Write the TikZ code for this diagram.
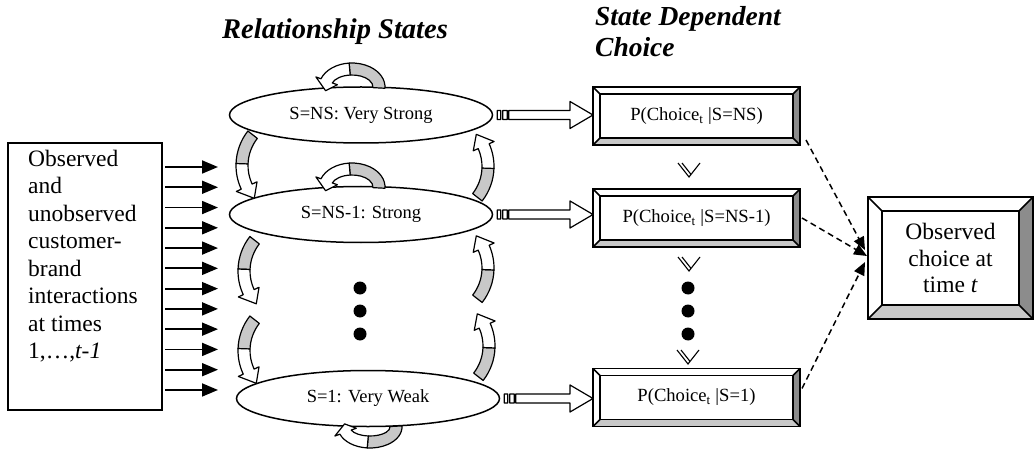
\documentclass[tikz,border=0pt]{standalone}
\usepackage{fontspec}
\setmainfont{Liberation Serif}
\usetikzlibrary{arrows.meta, calc, shapes.geometric}
\definecolor{bevlight}{HTML}{C8C8C8}
\definecolor{bevdark}{HTML}{8C8C8C}
\definecolor{ribgray}{HTML}{C8C8C8}

% bevelled frame round a rectangular node
\newcommand\bevel[2]{%
  \fill[bevlight] (#1.south west) -- ([shift={(#2,#2)}]#1.south west) -- ([shift={(-#2,#2)}]#1.south east) -- (#1.south east) -- cycle;
  \fill[bevdark] (#1.south east) -- ([shift={(-#2,#2)}]#1.south east) -- ([shift={(-#2,-#2)}]#1.north east) -- (#1.north east) -- cycle;
  \draw[bevline] ([shift={(#2,#2)}]#1.south west) rectangle ([shift={(-#2,-#2)}]#1.north east);
  \draw[bevline] (#1.south west) -- ++(#2,#2) (#1.south east) -- ++(-#2,#2)
    (#1.north east) -- ++(-#2,-#2) (#1.north west) -- ++(#2,-#2);
  \draw[bevline] (#1.south west) rectangle (#1.north east);
}
% curved ribbon arrow: centre outer, centre inner, radii outer, radii inner, start, grey end, head base, tip
\newcommand\ribbon[8]{%
  \path ([shift={(#7:#3)}]#1) coordinate (rbo) ([shift={(#7:#4)}]#2) coordinate (rbi)
        ([shift={(#8:#3)}]#1) coordinate (rto) ([shift={(#8:#4)}]#2) coordinate (rti);
  \filldraw[ribline, fill=ribgray] ([shift={(#5:#3)}]#1) arc (#5:#6:#3) -- ([shift={(#6:#4)}]#2) arc (#6:#5:#4) -- cycle;
  \filldraw[ribline, fill=white] ([shift={(#6:#3)}]#1) arc (#6:#7:#3) -- ($(rbo)!-0.45!(rbi)$)
    -- ($(rto)!0.5!(rti)$) -- ($(rbi)!-0.45!(rbo)$) -- (rbi) arc (#7:#6:#4) -- cycle;
}
% striped block arrow from one node to another
\newcommand\stripearrow[2]{%
  \filldraw[ribline, fill=white] let \p1=(#1), \p2=(#2) in
    (\x1+4pt,\y1-4.5pt) rectangle (\x1+7.5pt,\y1+4.5pt)
    (\x1+9.5pt,\y1-4.5pt) rectangle (\x1+14pt,\y1+4.5pt)
    (\x1+15.5pt,\y1-4.5pt) -- (\x2-23pt,\y1-4.5pt) -- (\x2-23pt,\y1-13.5pt) -- (\x2,\y1)
    -- (\x2-23pt,\y1+13.5pt) -- (\x2-23pt,\y1+4.5pt) -- (\x1+15.5pt,\y1+4.5pt) -- cycle;
}
% small double chevron pointing down
\newcommand\chevron[2]{%
  \draw[line width=1.1pt] (#1-11,#2+7) -- (#1,#2-7) -- (#1+11,#2+7) (#1-7,#2+7) -- (#1+2,#2-4.4);
}

\begin{document}
\begin{tikzpicture}[x=1pt, y=1pt,
  state/.style={ellipse, draw, line width=1.5pt, fill=white, minimum width=263pt,
    minimum height=56pt, inner sep=0pt, font=\fontsize{18.5}{22}\selectfont},
  pbox/.style={rectangle, fill=white, minimum width=207pt, minimum height=58pt,
    outer sep=0pt, font=\fontsize{18.6}{22}\selectfont},
  bevline/.style={line width=1.6pt},
  ribline/.style={line width=1.2pt, line join=round},
  inarr/.style={-{Triangle[length=16pt, width=13pt]}, line width=1.8pt},
  dasharr/.style={-{Triangle[length=13pt, width=11pt]}, line width=1.5pt, dash pattern=on 6pt off 4pt},
  title/.style={inner sep=0pt, align=left},
]
\useasboundingbox (0,0) rectangle (1035,453);

% titles
\node[title, font={\fontsize{28.5}{31}\selectfont\bfseries\itshape}, anchor=base west] (reltitle)
  at (222,414) {Relationship States};
\node[title, font={\fontsize{27.5}{31}\selectfont\bfseries\itshape}, anchor=north west] (choicetitle)
  at (595,447) {State Dependent\\Choice};

% interactions box
\node[draw, line width=1.3pt, minimum width=154pt, minimum height=267pt, outer sep=0pt] (interact) at (85,176.5) {};
\node[anchor=north west, align=left, inner sep=0pt, font=\fontsize{23.5}{27.5}\selectfont] (interacttxt)
  at (28,303.5) {Observed\\and\\unobserved\\customer-\\brand\\interactions\\at times\\1,…,\textit{t-1}};
\foreach \k in {0,...,11}{
  \pgfmathsetmacro\yy{286-20.27*\k}
  \draw[inarr] (interact.east |- 0,\yy) ++(3,0) -- (218,\yy);
}

% relationship states
\node[state] (vstrong) at (361,338) {S=NS: Very Strong};
\node[state] (strong) at (361,238.5) {S=NS-1: Strong};
\node[state] (vweak) at (368,54.5) {S=1: Very Weak};
\foreach \y in {165,142,119}{
  \fill (360,\y) circle (6.5);
  \fill (688,\y) circle (6.5);
}

% transitions
\coordinate (loopvs) at (352,366);
\coordinate (loopst) at (352,266);
\coordinate (loopvw) at (370,26);
\ribbon{loopvs}{loopvs}{33 and 24}{21 and 12}{-3}{95}{160}{192}
\ribbon{loopst}{loopst}{33 and 24}{21 and 12}{-3}{95}{160}{192}
\ribbon{loopvw}{loopvw}{32 and 21}{20 and 9}{3}{-95}{-160}{-192}
\foreach \cx/\cy in {292/287.5, 294/182, 294/102.5}{
  \coordinate (down) at (\cx,\cy);
  \ribbon{down}{down}{56}{44}{142}{178}{205}{221}
}
\foreach \cx/\cy in {438/286.5, 438/185, 439/107}{
  \coordinate (up) at (\cx,\cy);
  \ribbon{up}{up}{56}{44}{-38}{-2}{24}{40}
}

% state dependent choice
\node[pbox] (pvstrong) at (696.5,337) {P(Choice\textsubscript{t} |S=NS)};
\node[pbox] (pstrong) at (696.5,235) {P(Choice\textsubscript{t} |S=NS-1)};
\node[pbox] (pvweak) at (696.5,55.5) {P(Choice\textsubscript{t} |S=1)};
\bevel{pvstrong}{7}
\bevel{pstrong}{7}
\bevel{pvweak}{7}
\stripearrow{vstrong.east}{pvstrong.west}
\stripearrow{strong.east}{pstrong.west}
\stripearrow{vweak.east}{pvweak.west}
\chevron{689}{283}
\chevron{689}{189}
\chevron{688}{96}

% observed choice
\node[pbox, minimum width=165pt, minimum height=122pt, align=center,
  font=\fontsize{23.5}{26.5}\selectfont] (observed) at (950.5,195) {Observed\\choice at\\time \textit{t}};
\bevel{observed}{14}
\draw[dasharr] ([shift={(6,5)}]pvstrong.south east) -- ([shift={(-3,8)}]observed.west);
\draw[dasharr] ([xshift=2]pstrong.east) -- ([shift={(-1,2)}]observed.west);
\draw[dasharr] ([shift={(2,-20)}]pvweak.north east) -- ([shift={(-3,-4)}]observed.west);
\end{tikzpicture}
\end{document}
